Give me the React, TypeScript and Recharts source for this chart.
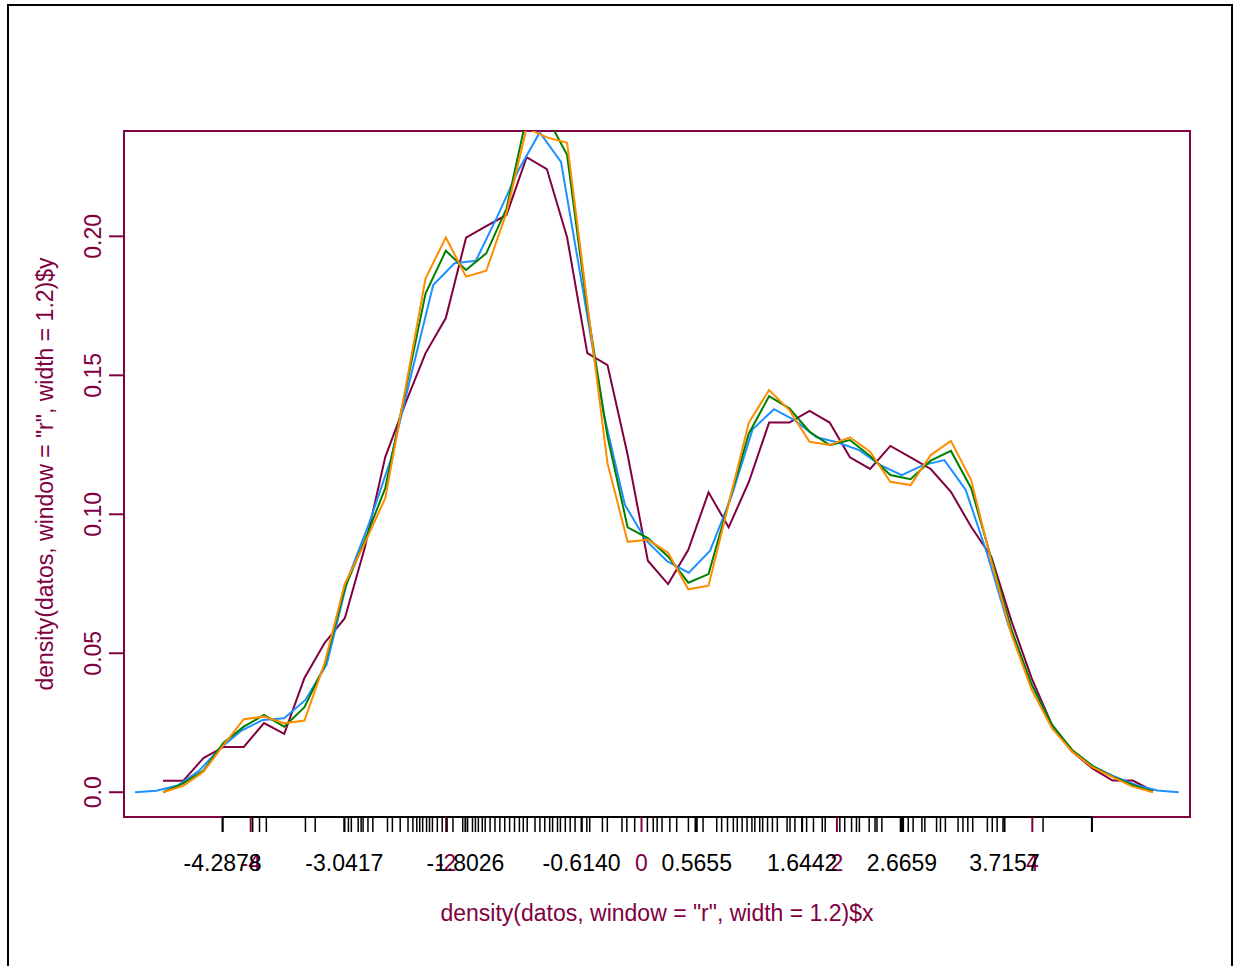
import React from "react";
import { ComposedChart, Line, XAxis, YAxis, ReferenceLine } from "recharts";

const MAROON = "#800040";
const BLUE = "#1E90FF";
const GREEN = "#008000";
const ORANGE = "#FF8C00";
const FONT = "'Liberation Sans', Arial, sans-serif";

const X_MIN = -5.297;
const X_MAX = 5.614;
const Y_MIN = -0.0089;
const Y_MAX = 0.2379;

// x grid for the rectangular / green / orange curves
const gridA = [
  -4.898, -4.691, -4.484, -4.278, -4.071, -3.864, -3.657, -3.45, -3.244, -3.037,
  -2.83, -2.623, -2.416, -2.21, -2.003, -1.796, -1.589, -1.382, -1.176, -0.969,
  -0.762, -0.555, -0.348, -0.142, 0.065, 0.272, 0.479, 0.686, 0.892, 1.099,
  1.306, 1.513, 1.72, 1.926, 2.133, 2.34, 2.547, 2.754, 2.96, 3.167,
  3.374, 3.581, 3.788, 3.994, 4.201, 4.408, 4.615, 4.822, 5.028, 5.235,
];

// x grid for the blue curve
const gridB = [
  -5.184, -4.966, -4.748, -4.53, -4.312, -4.094, -3.876, -3.658, -3.44, -3.222,
  -3.004, -2.786, -2.568, -2.35, -2.132, -1.914, -1.696, -1.478, -1.26, -1.042,
  -0.824, -0.606, -0.388, -0.17, 0.048, 0.266, 0.484, 0.702, 0.92, 1.138,
  1.356, 1.574, 1.792, 2.01, 2.228, 2.446, 2.664, 2.882, 3.1, 3.318,
  3.536, 3.754, 3.972, 4.19, 4.408, 4.626, 4.844, 5.062, 5.28, 5.498,
];

const rectY = [
  0.0041, 0.0041, 0.0123, 0.0163, 0.0163, 0.0249, 0.021, 0.0411, 0.0537, 0.0626,
  0.0883, 0.1206, 0.14, 0.158, 0.1706, 0.1995, 0.2037, 0.2077, 0.2285, 0.2242,
  0.1997, 0.158, 0.1537, 0.1214, 0.0833, 0.0749, 0.0872, 0.1079, 0.0953, 0.1117,
  0.133, 0.133, 0.1372, 0.133, 0.1205, 0.1163, 0.1246, 0.1205, 0.1163, 0.1081,
  0.0955, 0.0847, 0.0614, 0.041, 0.0242, 0.0146, 0.0086, 0.0042, 0.0042, 0.0005,
];

const blueY = [
  0.0, 0.0005, 0.0024, 0.0077, 0.0158, 0.0222, 0.026, 0.0266, 0.0332, 0.046,
  0.077, 0.097, 0.1195, 0.1513, 0.1825, 0.1903, 0.1912, 0.207, 0.2238, 0.2374,
  0.2268, 0.182, 0.1363, 0.1034, 0.0905, 0.083, 0.079, 0.0869, 0.1063, 0.1306,
  0.1378, 0.1337, 0.1277, 0.1258, 0.1231, 0.1177, 0.1141, 0.1177, 0.1195, 0.1088,
  0.086, 0.0602, 0.0404, 0.0248, 0.015, 0.0092, 0.0056, 0.0026, 0.0006, 0.0,
];

const greenY = [
  0.0, 0.0032, 0.0078, 0.0178, 0.0236, 0.0278, 0.0236, 0.0306, 0.0455, 0.0734,
  0.0908, 0.1094, 0.1445, 0.1795, 0.1948, 0.1879, 0.1939, 0.21, 0.243, 0.243,
  0.2293, 0.1739, 0.128, 0.0953, 0.0914, 0.0848, 0.0754, 0.0785, 0.104, 0.1291,
  0.1425, 0.1381, 0.1297, 0.1249, 0.1267, 0.121, 0.1141, 0.1126, 0.1193, 0.1228,
  0.1094, 0.084, 0.0584, 0.0386, 0.0242, 0.0152, 0.0095, 0.0056, 0.0026, 0.0002,
];

const orangeY = [
  0.0, 0.0023, 0.0074, 0.017, 0.0263, 0.0272, 0.0248, 0.0258, 0.0464, 0.075,
  0.0898, 0.1058, 0.1453, 0.1849, 0.1996, 0.1855, 0.1876, 0.2085, 0.239, 0.2356,
  0.2337, 0.176, 0.1183, 0.0901, 0.0908, 0.0862, 0.073, 0.0743, 0.1037, 0.133,
  0.1447, 0.1375, 0.1261, 0.1249, 0.1277, 0.1225, 0.1117, 0.1105, 0.1213, 0.1264,
  0.1123, 0.083, 0.0566, 0.0368, 0.023, 0.0146, 0.009, 0.0054, 0.002, 0.0,
];

// observations (rug)
const datos = [
  -4.2878, -3.98, -3.91, -3.84, -3.44, -3.34, -3.04, -3.0, -2.97, -2.9, -2.87, -2.85,
  -2.8, -2.75, -2.6, -2.55, -2.47, -2.39, -2.34, -2.3, -2.27, -2.24, -2.2, -2.17,
  -2.14, -2.09, -2.04, -1.99, -1.93, -1.83, -1.78, -1.73, -1.7, -1.67, -1.63, -1.6,
  -1.55, -1.5, -1.45, -1.4, -1.35, -1.3, -1.25, -1.21, -1.17, -1.09, -1.04, -0.99,
  -0.94, -0.91, -0.86, -0.83, -0.78, -0.73, -0.68, -0.61, -0.56, -0.53, -0.4, -0.35,
  -0.2, -0.15, -0.07, 0.06, 0.12, 0.16, 0.21, 0.29, 0.36, 0.48, 0.55, 0.63,
  0.77, 0.82, 0.88, 0.94, 0.98, 1.03, 1.08, 1.13, 1.16, 1.21, 1.24, 1.29,
  1.34, 1.39, 1.49, 1.52, 1.57, 1.64, 1.69, 1.76, 1.85, 1.88, 2.03, 2.08,
  2.15, 2.2, 2.23, 2.33, 2.39, 2.41, 2.46, 2.65, 2.68, 2.73, 2.78, 2.87,
  2.9, 3.02, 3.06, 3.11, 3.24, 3.29, 3.34, 3.39, 3.54, 3.59, 3.64, 3.7,
  4.11, 4.61,
];

const xTicks = [-4, -2, 0, 2, 4];
const quantTicks = [-4.2878, -3.0417, -1.8026, -0.614, 0.5655, 1.6442, 2.6659, 3.7157, 4.61];
const quantLabels = ["-4.2878", "-3.0417", "-1.8026", "-0.6140", "0.5655", "1.6442", "2.6659", "3.7157", ""];
const yTicks = [0, 0.05, 0.1, 0.15, 0.2];
const yLabels = ["0.0", "0.05", "0.10", "0.15", "0.20"];

const xTitle = 'density(datos, window = "r", width = 1.2)$x';
const yTitle = 'density(datos, window = "r", width = 1.2)$y';

const toPoints = (xs: number[], ys: number[]) => xs.map((x, i) => ({ x, y: ys[i] }));

const rectData = toPoints(gridA, rectY);
const blueData = toPoints(gridB, blueY);
const greenData = toPoints(gridA, greenY);
const orangeData = toPoints(gridA, orangeY);

const AXIS_Y = 817;
const TICK_LEN = 15;

const MaroonTick = ({ x, payload }: any) => (
  <g>
    <line x1={x} x2={x} y1={AXIS_Y} y2={AXIS_Y + TICK_LEN} stroke={MAROON} strokeWidth={2} />
    <text x={x} y={871} textAnchor="middle" fill={MAROON} fontSize={23} fontFamily={FONT}>
      {String(payload.value)}
    </text>
  </g>
);

const QuantTick = ({ x, index }: any) => (
  <g>
    <line x1={x} x2={x} y1={AXIS_Y} y2={AXIS_Y + TICK_LEN} stroke="#000" strokeWidth={2} />
    <text x={x} y={871} textAnchor="middle" fill="#000" fontSize={23} fontFamily={FONT}>
      {quantLabels[index] ?? ""}
    </text>
  </g>
);

const RugTick = ({ x }: any) => (
  <line x1={x} x2={x} y1={AXIS_Y} y2={AXIS_Y + TICK_LEN} stroke="#000" strokeWidth={1.5} />
);

const renderYTick = ({ y, index }: any) => (
  <g>
    <path d={`M${124 - TICK_LEN},${y}H124`} stroke={MAROON} strokeWidth={2} fill="none" />
    <text
      x={101}
      y={y}
      transform={`rotate(-90 101 ${y})`}
      textAnchor="middle"
      fill={MAROON}
      fontSize={23}
      fontFamily={FONT}
    >
      {yLabels[index]}
    </text>
  </g>
);

const renderYTitle = () => (
  <text x={53} y={474} transform="rotate(-90 53 474)" textAnchor="middle" fill={MAROON} fontSize={23} fontFamily={FONT}>
    {yTitle}
  </text>
);

const renderXTitle = () => (
  <text x={657} y={921} textAnchor="middle" fill={MAROON} fontSize={23} fontFamily={FONT}>
    {xTitle}
  </text>
);

export default function App() {
  return (
    <div style={{ position: "absolute", left: 0, top: 0, width: 1241, height: 966, overflow: "hidden", background: "#fff" }}>
      <div
        style={{
          position: "absolute",
          left: 7,
          top: 4,
          width: 1226,
          height: 1000,
          border: "2px solid #000",
          boxSizing: "border-box",
        }}
      />
      <div
        style={{
          position: "absolute",
          left: 123,
          top: 130,
          width: 1068,
          height: 688,
          border: `2px solid ${MAROON}`,
          boxSizing: "border-box",
        }}
      />
      <div style={{ position: "absolute", left: 0, top: 0, zIndex: 1 }}>
        <ComposedChart width={1241} height={966} margin={{ top: 131, right: 51, bottom: 149, left: 0 }}>
          <YAxis
            yAxisId="y"
            type="number"
            domain={[Y_MIN, Y_MAX]}
            allowDataOverflow
            ticks={yTicks}
            interval={0}
            width={124}
            tickSize={15}
            tickLine={false}
            axisLine={false}
            tick={renderYTick}
            label={renderYTitle}
          />
          <XAxis
            xAxisId="m"
            dataKey="x"
            type="number"
            domain={[X_MIN, X_MAX]}
            allowDataOverflow
            ticks={xTicks}
            interval={0}
            height={0.01}
            axisLine={false}
            tickLine={false}
            tick={<MaroonTick />}
            label={renderXTitle}
          />
          <XAxis
            xAxisId="rug"
            dataKey="x"
            type="number"
            domain={[X_MIN, X_MAX]}
            allowDataOverflow
            ticks={datos}
            interval={0}
            height={0.01}
            axisLine={false}
            tickLine={false}
            tick={<RugTick />}
          />
          <XAxis
            xAxisId="q"
            dataKey="x"
            type="number"
            domain={[X_MIN, X_MAX]}
            allowDataOverflow
            ticks={quantTicks}
            interval={0}
            height={0.01}
            axisLine={false}
            tickLine={false}
            tick={<QuantTick />}
          />
          <ReferenceLine
            xAxisId="q"
            yAxisId="y"
            segment={[
              { x: quantTicks[0], y: Y_MIN },
              { x: quantTicks[quantTicks.length - 1], y: Y_MIN },
            ]}
            stroke="#000"
            strokeWidth={2}
            ifOverflow="visible"
          />
          {/* invisible carriers so the rug and quantile axes get a scale */}
          <Line xAxisId="rug" yAxisId="y" data={rectData} dataKey="y" stroke="none" dot={false} activeDot={false} legendType="none" isAnimationActive={false} />
          <Line xAxisId="q" yAxisId="y" data={rectData} dataKey="y" stroke="none" dot={false} activeDot={false} legendType="none" isAnimationActive={false} />
          <Line xAxisId="m" yAxisId="y" data={rectData} dataKey="y" type="linear" stroke={MAROON} strokeWidth={2} dot={false} isAnimationActive={false} />
          <Line xAxisId="m" yAxisId="y" data={blueData} dataKey="y" type="linear" stroke={BLUE} strokeWidth={2} dot={false} isAnimationActive={false} />
          <Line xAxisId="m" yAxisId="y" data={greenData} dataKey="y" type="linear" stroke={GREEN} strokeWidth={2} dot={false} isAnimationActive={false} />
          <Line xAxisId="m" yAxisId="y" data={orangeData} dataKey="y" type="linear" stroke={ORANGE} strokeWidth={2} dot={false} isAnimationActive={false} />
        </ComposedChart>
      </div>
    </div>
  );
}
